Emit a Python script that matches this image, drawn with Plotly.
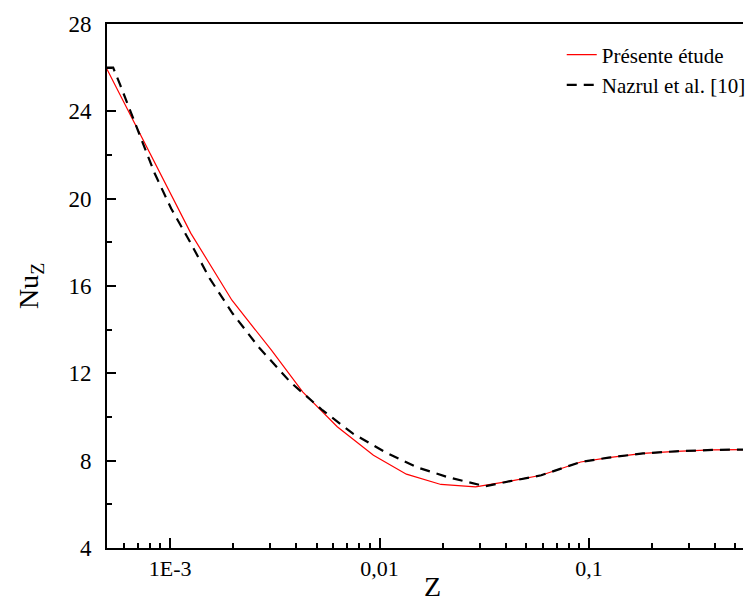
import math
import plotly.graph_objects as go

# ---- data ----
z_present = [0.0005, 0.0008, 0.001257, 0.001974, 0.003046, 0.004295, 0.00628, 0.00935,
             0.01343, 0.01963, 0.0287, 0.0420, 0.0591, 0.0912, 0.124, 0.181, 0.260, 0.387, 0.543]
nu_present = [25.93, 22.13, 18.41, 15.35, 13.06, 11.15, 9.555, 8.25,
              7.38, 6.91, 6.80, 7.06, 7.33, 7.94, 8.14, 8.33, 8.43, 8.49, 8.51]

z_nazrul = [0.0005, 0.000535, 0.000578, 0.000731, 0.000844, 0.001012, 0.001257, 0.001545,
            0.001989, 0.002666, 0.003742, 0.005337, 0.00747, 0.0106, 0.01495, 0.02109,
            0.03194, 0.0420, 0.0591, 0.0912, 0.124, 0.181, 0.260, 0.387, 0.543]
nu_nazrul = [26.0, 26.0, 25.21, 22.68, 21.16, 19.55, 17.95, 16.35,
             14.74, 13.17, 11.61, 10.31, 9.24, 8.40, 7.71, 7.25,
             6.83, 7.06, 7.33, 7.94, 8.14, 8.33, 8.43, 8.49, 8.51]

x_tick_vals = [0.001, 0.01, 0.1]
x_tick_text = ["1E-3", "0,01", "0,1"]
y_tick_vals = [4, 8, 12, 16, 20, 24, 28]

series_names = ["Présente étude", "Nazrul et al. [10]"]

FONT = "Liberation Serif"

# minor ticks on the log axis (2..9 times each decade)
minor_x = []
for dec in [1e-4, 1e-3, 1e-2, 1e-1]:
    for m in range(2, 10):
        v = m * dec
        if 0.0005 < v < 0.543:
            minor_x.append(v)

fig = go.Figure()
fig.add_trace(go.Scatter(x=z_present, y=nu_present, mode="lines", name=series_names[0],
                         line=dict(color="#ff0000", width=1.2)))
fig.add_trace(go.Scatter(x=z_nazrul, y=nu_nazrul, mode="lines", name=series_names[1],
                         line=dict(color="black", width=2.2, dash="10px,7px")))

W, H = 751, 601
L, R, T, B = 107, 0, 24, 53

fig.update_layout(
    width=W, height=H,
    margin=dict(l=L, r=R, t=T, b=B),
    paper_bgcolor="white", plot_bgcolor="white",
    font=dict(family=FONT, color="black", size=22),
    showlegend=True,
    legend=dict(x=0.715, y=0.98, xanchor="left", yanchor="top",
                font=dict(family=FONT, size=21, color="black"),
                bgcolor="rgba(0,0,0,0)"),
    xaxis=dict(type="log", range=[math.log10(0.0005), math.log10(0.543)],
               tickmode="array", tickvals=x_tick_vals, ticktext=x_tick_text,
               ticks="inside", ticklen=10, tickwidth=1.5, tickcolor="black",
               minor=dict(tickmode="array", tickvals=minor_x, ticks="inside",
                          ticklen=5, tickwidth=1.5, tickcolor="black"),
               showline=True, linecolor="black", linewidth=1.8, mirror=True,
               showgrid=False, zeroline=False,
               tickfont=dict(family=FONT, size=22, color="black")),
    yaxis=dict(range=[4, 28], tickmode="array", tickvals=y_tick_vals,
               ticks="inside", ticklen=9, tickwidth=1.5, tickcolor="black",
               minor=dict(dtick=2, ticks="inside", ticklen=5, tickwidth=1.5, tickcolor="black"),
               showline=True, linecolor="black", linewidth=1.8, mirror=False,
               showgrid=False, zeroline=False, ticklabelstandoff=9,
               tickfont=dict(family=FONT, size=23, color="black"),
               title=dict(text="Nu<sub>Z</sub>", font=dict(family=FONT, size=28, color="black"),
                          standoff=22)),
)

pw = W - L - R
fig.add_annotation(text="Z", xref="paper", yref="paper",
                   x=(436.7 - L) / pw, y=-(586 - (H - B)) / (H - T - B),
                   xanchor="center", yanchor="middle", showarrow=False,
                   font=dict(family=FONT, size=28, color="black"))

fig.write_html("out.html")
